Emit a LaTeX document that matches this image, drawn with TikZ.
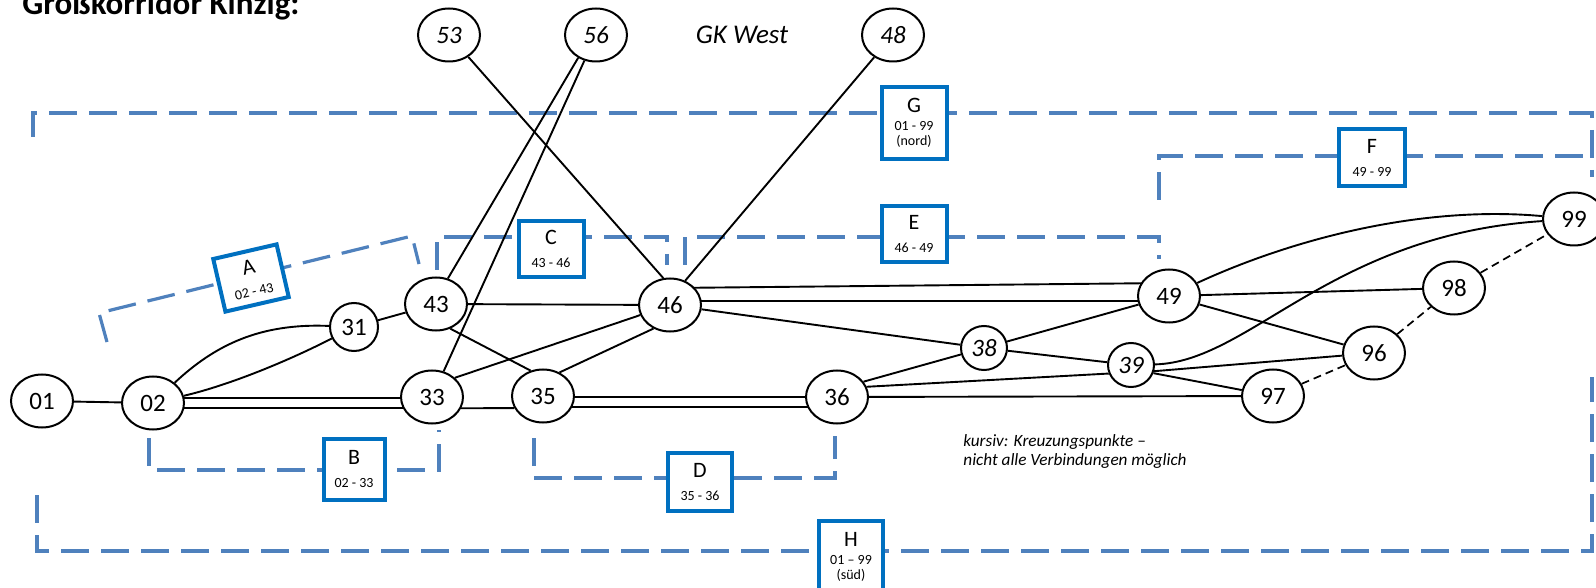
\documentclass[tikz,border=0pt]{standalone}
\usepackage{fontspec}
\setmainfont{Carlito}
\usetikzlibrary{shapes.geometric,calc}
\pgfdeclarelayer{edges}
\pgfsetlayers{edges,main}
\definecolor{corridor}{RGB}{79,129,189}
\definecolor{boxblue}{RGB}{0,112,192}
\tikzset{
  station/.style={ellipse,draw,line width=1pt,fill=white,inner sep=0pt,
    minimum width=31pt,minimum height=26.5pt,font=\fontsize{12.5}{14}\selectfont},
  roundst/.style={station,minimum width=24pt,minimum height=24pt},
  xing/.style={station,minimum width=23pt,minimum height=22pt,font=\fontsize{12.5}{14}\selectfont\itshape},
  westst/.style={station,font=\fontsize{12.5}{14}\selectfont\itshape},
  link/.style={line width=0.95pt},
  twin/.style={double,double distance=4pt,line width=0.95pt},
  maybe/.style={line width=0.85pt,dash pattern=on 4pt off 2.5pt},
  bracket/.style={corridor,line width=1.6pt,dash pattern=on 14pt off 6pt},
  secbox/.style={rectangle,draw=boxblue,line width=2pt,fill=white,inner sep=0pt,
    minimum width=32.5pt,minimum height=28pt,align=center,
    font=\fontsize{7}{7.5}\selectfont},
  note/.style={font=\fontsize{8.6}{9.5}\selectfont\itshape,align=left,inner sep=0pt},
}
\newcommand{\seclbl}[2]{{\fontsize{11}{12}\selectfont #1}\\[4pt]#2}
\newcommand{\seclblx}[3]{{\fontsize{11}{12}\selectfont #1}\\[1.25pt]#2\\#3}
\begin{document}
\begin{tikzpicture}[x=0.5pt,y=-0.5pt]
\useasboundingbox (0,0) rectangle (1596,588);

% title
\node[anchor=base west,inner sep=0pt,font=\fontsize{16.5}{18}\selectfont\bfseries] (title) at (22,15) {Großkorridor Kinzig:};

% stations
\node[station] (n01) at (42,401) {01};
\node[station] (n02) at (153,403) {02};
\node[roundst] (n31) at (354,327) {31};
\node[station] (n43) at (436,304) {43};
\node[station] (n33) at (432,397) {33};
\node[station] (n35) at (543,396) {35};
\node[station] (n46) at (670,305) {46};
\node[station] (n36) at (837,397) {36};
\node[xing] (n38) at (984,348) {38};
\node[xing] (n39) at (1131,365) {39};
\node[station] (n49) at (1169,296) {49};
\node[station] (n98) at (1454,288) {98};
\node[station] (n96) at (1374,353) {96};
\node[station] (n97) at (1273,396) {97};
\node[station] (n99) at (1574,219) {99};
\node[westst] (n53) at (449,35) {53};
\node[westst] (n56) at (596,35) {56};
\node[westst] (n48) at (893,35) {48};
\node[font=\fontsize{13.5}{15}\selectfont\itshape] (west) at (742,35) {GK West};

% section labels
\node[secbox,rotate=13,minimum height=27pt] (bA) at (251,278) {\seclbl{A}{02 - 43}};
\node[secbox,minimum width=30.5pt,minimum height=30.5pt] (bB) at (354,469) {\seclbl{B}{02 - 33}};
\node[secbox] (bC) at (551,249) {\seclbl{C}{43 - 46}};
\node[secbox,minimum width=32pt,minimum height=29pt] (bD) at (700,482) {\seclbl{D}{35 - 36}};
\node[secbox] (bE) at (914,234) {\seclbl{E}{46 - 49}};
\node[secbox,minimum width=33pt,minimum height=28.5pt] (bF) at (1372,158) {\seclbl{F}{49 - 99}};
\node[secbox,minimum height=36pt] (bG) at (914,123) {\seclblx{G}{01 - 99}{(nord)}};
\node[secbox,minimum width=32pt,minimum height=36pt] (bH) at (851,557) {\seclblx{H}{01 – 99}{(süd)}};

% hint
\node[note,anchor=west] (hint) at (963,451.5) {kursiv: Kreuzungspunkte –\\nicht alle Verbindungen möglich};

\begin{pgfonlayer}{edges}
  % corridor sections
  \draw[bracket] (33,137) -- (33,113) -- (1592,113) -- (1592,177);
  \draw[bracket] (1159,200) -- (1159,156) -- (1592,156);
  \draw[bracket] (685,265) -- (685,237) -- (1159,237) -- (1159,259);
  \draw[bracket] (437,270) -- (437,237) -- (667,237) -- (667,265);
  \draw[bracket] (107,342) -- (99,313) -- (412,236) -- (419,264);
  \draw[bracket] (149,438) -- (149,470) -- (439,470) -- (439,430);
  \draw[bracket] (534,438) -- (534,478) -- (835,478) -- (835,436);
  \draw[bracket] (37,495) -- (37,551) -- (1592,551) -- (1592,377);

  % connections
  \draw[link] (n01) -- (n02);
  \draw[link] (n02) .. controls (215,345) and (260,323) .. (n31);
  \draw[link] (n02) .. controls (230,385) and (290,360) .. (n31);
  \draw[link] (n31) -- (n43);
  \draw[twin] (n02.center) -- ([yshift=-3pt]n33.center);
  \draw[link] (n33.-21) -- (n35.-157);
  \draw[link] (n43) -- (n46);
  \draw[link] (n43.-60) -- (n35.116);
  \draw[link] (n33.40) -- (n46);
  \draw[link] (n35.55) -- (n46.-125);
  \draw[link] (n56.-128) -- (n43.65);
  \draw[link] (n56) -- (n33);
  \draw[link] (n53) -- (n46.104);
  \draw[link] (n48) -- (n46.58);
  \draw[twin] ([yshift=-3pt]n35.center) -- ([yshift=-2.5pt]n36.center);
  \draw[link] ([yshift=8.5pt]n46.center) -- ([yshift=6.5pt]n49.center);
  \draw[link] ([yshift=2pt]n46.center) -- ([yshift=-2.5pt]n49.center);
  \draw[link] (n46) -- (n38);
  \draw[link] (n38) -- (n49);
  \draw[link] (n38) -- (n39);
  \draw[link] (n36.30) -- (n38);
  \draw[link] (n36.19) -- (n39.-159);
  \draw[link] (n36) -- (n97);
  \draw[link] (n39.-15) -- (n96);
  \draw[link] (n39.-20) -- (n97);
  \draw[link] (n39) .. controls (1250,362) and (1330,235) .. (n99);
  \draw[link] (n49) .. controls (1290,240) and (1420,205) .. (n99);
  \draw[link] (n49) -- (n98);
  \draw[link] (n49) -- (n96);
  \draw[maybe] (n97) -- (n96) -- (n98) -- (n99);
\end{pgfonlayer}
\end{tikzpicture}
\end{document}
